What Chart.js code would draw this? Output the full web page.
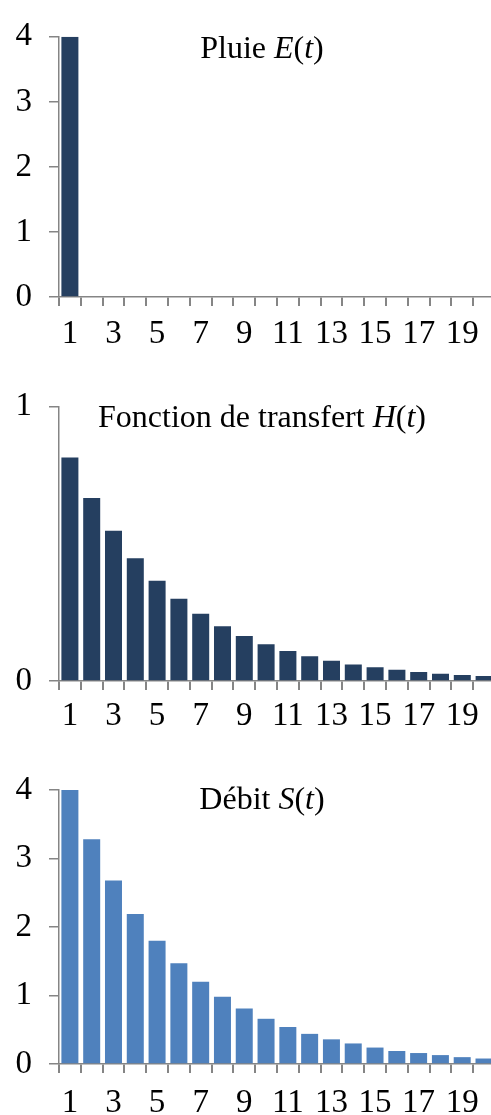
<!DOCTYPE html>
<html>
<head>
<meta charset="utf-8">
<script src="https://cdn.jsdelivr.net/npm/chart.js@4"></script>
<style>
    html, body { margin: 0; padding: 0; background: #fff; overflow: hidden; width: 491px; height: 1115px; }
    .panel { position: absolute; left: 0; }
</style>
</head>
<body>
<div class="panel" style="top:0px"><canvas id="rain-chart" width="495" height="360"></canvas></div>
<div class="panel" style="top:370px"><canvas id="transfer-chart" width="495" height="370"></canvas></div>
<div class="panel" style="top:740px"><canvas id="flow-chart" width="495" height="375"></canvas></div>
<script>
    // time steps t = 1..20
    const categories = ['1', '2', '3', '4', '5', '6', '7', '8', '9', '10',
                        '11', '12', '13', '14', '15', '16', '17', '18', '19', '20'];
    // only every other step is labelled on the x axis
    const xTickLabels = ['1', '', '3', '', '5', '', '7', '', '9', '',
                         '11', '', '13', '', '15', '', '17', '', '19', ''];

    const rainValues = [4, 0, 0, 0, 0, 0, 0, 0, 0, 0, 0, 0, 0, 0, 0, 0, 0, 0, 0, 0];
    const transferValues = [0.815, 0.667, 0.548, 0.448, 0.366, 0.300, 0.245, 0.200, 0.164, 0.134,
                            0.109, 0.090, 0.074, 0.060, 0.050, 0.041, 0.033, 0.026, 0.022, 0.018];
    const flowValues = [4.00, 3.28, 2.68, 2.19, 1.80, 1.47, 1.20, 0.98, 0.81, 0.66,
                        0.54, 0.44, 0.36, 0.30, 0.24, 0.19, 0.16, 0.13, 0.10, 0.08];

    const rainTitle = [['Pluie ', false], ['E', true], ['(', false], ['t', true], [')', false]];
    const transferTitle = [['Fonction de transfert ', false], ['H', true], ['(', false], ['t', true], [')', false]];
    const flowTitle = [['Débit ', false], ['S', true], ['(', false], ['t', true], [')', false]];

    const FONT = '"Liberation Serif", "Times New Roman", serif';
    const AXIS_GREY = '#858585';

    // title sits inside the plot area, with italic math letters
    const inlineTitle = {
        id: 'inlineTitle',
        afterDraw(chart, args, opts) {
            const ctx = chart.ctx;
            const fontFor = italic => (italic ? 'italic ' : '') + opts.size + 'px ' + FONT;
            ctx.save();
            ctx.fillStyle = '#000';
            ctx.textAlign = 'left';
            ctx.textBaseline = 'alphabetic';
            let total = 0;
            opts.parts.forEach(([text, italic]) => {
                ctx.font = fontFor(italic);
                total += ctx.measureText(text).width;
            });
            let x = opts.centerX - total / 2;
            const y = chart.chartArea.top + opts.baseline;
            opts.parts.forEach(([text, italic]) => {
                ctx.font = fontFor(italic);
                ctx.fillText(text, x, y);
                x += ctx.measureText(text).width;
            });
            ctx.restore();
        }
    };

    function makeChart(canvasId, values, color, yMax, title, layout) {
        const canvas = document.getElementById(canvasId);
        return new Chart(canvas.getContext('2d'), {
            type: 'bar',
            data: {
                labels: categories,
                datasets: [{
                    data: values,
                    backgroundColor: color,
                    borderWidth: 0,
                    barPercentage: 0.78,
                    categoryPercentage: 1.0
                }]
            },
            options: {
                responsive: false,
                animation: false,
                devicePixelRatio: 1,
                layout: { padding: { top: layout.top, left: 0, right: 0, bottom: 0 } },
                plugins: {
                    legend: { display: false },
                    tooltip: { enabled: false },
                    title: { display: false },
                    inlineTitle: { parts: title, size: 32, centerX: 262, baseline: layout.titleBaseline }
                },
                scales: {
                    x: {
                        offset: true,
                        grid: {
                            display: true,
                            offset: true,
                            drawOnChartArea: false,
                            drawTicks: true,
                            tickLength: 9,
                            color: AXIS_GREY,
                            lineWidth: 2
                        },
                        border: { display: true, color: AXIS_GREY, width: 1.5 },
                        ticks: {
                            autoSkip: false,
                            maxRotation: 0,
                            padding: layout.xPad,
                            color: '#000',
                            font: { family: FONT, size: 33 },
                            callback: (val, i) => xTickLabels[i]
                        },
                        afterFit: scale => { scale.height = layout.xHeight; }
                    },
                    y: {
                        min: 0,
                        max: yMax,
                        grid: {
                            drawOnChartArea: false,
                            drawTicks: true,
                            tickLength: 10,
                            color: AXIS_GREY,
                            lineWidth: 1.5
                        },
                        border: { display: true, color: AXIS_GREY, width: 1.5 },
                        ticks: {
                            stepSize: 1,
                            padding: 17,
                            color: '#000',
                            font: { family: FONT, size: 33 }
                        },
                        afterFit: scale => { scale.width = 59; }
                    }
                }
            },
            plugins: [inlineTitle]
        });
    }

    makeChart('rain-chart', rainValues, '#253F60', 4, rainTitle,
        { top: 22, xHeight: 63, xPad: 9, titleBaseline: 21 });
    makeChart('transfer-chart', transferValues, '#253F60', 1, transferTitle,
        { top: 35, xHeight: 59, xPad: 7, titleBaseline: 20 });
    makeChart('flow-chart', flowValues, '#4F81BD', 4, flowTitle,
        { top: 50, xHeight: 51, xPad: 11, titleBaseline: 19 });
</script>
</body>
</html>
